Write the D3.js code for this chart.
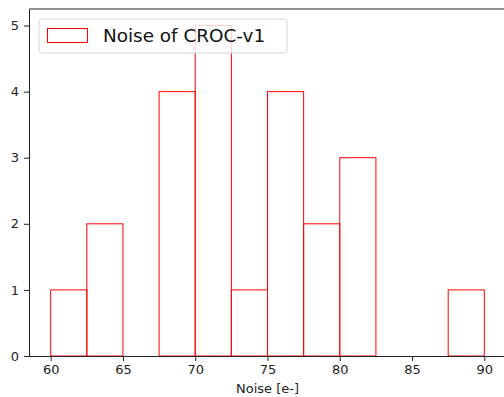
<!DOCTYPE html>
<html>
<head>
<meta charset="utf-8">
<script src="https://cdn.jsdelivr.net/npm/d3@7"></script>
<style>
  body { margin: 0; background: #fff; }
  svg { display: block; font-family: "DejaVu Sans", sans-serif; }
</style>
</head>
<body>
<div id="chart"></div>
<script>
// histogram bins (edges) and counts
const binEdges = [60, 62.5, 65, 67.5, 70, 72.5, 75, 77.5, 80, 82.5, 85, 87.5, 90];
const counts = [1, 2, 0, 4, 5, 1, 4, 2, 3, 0, 0, 1];
const xTicks = [60, 65, 70, 75, 80, 85, 90];
const yTicks = [0, 1, 2, 3, 4, 5];
const legendLabel = "Noise of CROC-v1";
const xLabel = "Noise [e-]";

const W = 504, H = 397;
const margin = { top: 9, right: -2, bottom: 41, left: 29 };
const width = W - margin.left - margin.right;
const height = H - margin.top - margin.bottom;

const svg = d3.select("#chart")
  .append("svg")
  .attr("width", W)
  .attr("height", H);

const g = svg.append("g")
  .attr("transform", "translate(" + margin.left + "," + margin.top + ")");

const xScale = d3.scaleLinear()
  .domain([58.5, 91.5])
  .range([0, width]);

const yScale = d3.scaleLinear()
  .domain([0, 5.25])
  .range([height, 0]);

const bins = counts.map((c, i) => ({ x0: binEdges[i], x1: binEdges[i + 1], n: c }));

// outline bars
g.selectAll(".bar")
  .data(bins)
  .enter()
  .append("rect")
  .attr("class", "bar")
  .attr("x", d => xScale(d.x0))
  .attr("y", d => yScale(d.n))
  .attr("width", d => xScale(d.x1) - xScale(d.x0))
  .attr("height", d => yScale(0) - yScale(d.n))
  .attr("fill", "none")
  .attr("stroke", "#ff0000")
  .attr("stroke-width", 1);

// axes
const xAxis = g.append("g")
  .attr("transform", "translate(0," + height + ")")
  .call(d3.axisBottom(xScale).tickValues(xTicks).tickFormat(d3.format("d"))
    .tickSize(5).tickPadding(4).tickSizeOuter(0));

const yAxis = g.append("g")
  .call(d3.axisLeft(yScale).tickValues(yTicks).tickFormat(d3.format("d"))
    .tickSize(5).tickPadding(5).tickSizeOuter(0));

[xAxis, yAxis].forEach(a => {
  a.selectAll("text").attr("font-size", "13px").attr("fill", "#222").attr("font-family", "DejaVu Sans, sans-serif");
  a.selectAll("line").attr("stroke", "#222");
  a.select(".domain").attr("stroke", "#222");
});

// top spine
g.append("line")
  .attr("x1", 0).attr("x2", width)
  .attr("y1", 0).attr("y2", 0)
  .attr("stroke", "#222");

// x label
g.append("text")
  .attr("x", xScale(75))
  .attr("y", height + 37)
  .attr("text-anchor", "middle")
  .attr("font-size", "13px")
  .attr("fill", "#222")
  .text(xLabel);

// legend
const legend = g.append("g")
  .attr("transform", "translate(10,10)");

legend.append("rect")
  .attr("x", 0)
  .attr("y", 0)
  .attr("width", 248)
  .attr("height", 34)
  .attr("rx", 3)
  .attr("fill", "rgba(255,255,255,0.8)")
  .attr("stroke", "#d6d6d6");

legend.append("rect")
  .attr("x", 8.5)
  .attr("y", 9.5)
  .attr("width", 40)
  .attr("height", 14)
  .attr("fill", "none")
  .attr("stroke", "#ff0000");

legend.append("text")
  .attr("x", 64)
  .attr("y", 23)
  .attr("font-size", "18.4px")
  .attr("fill", "#111")
  .text(legendLabel);
</script>
</body>
</html>
